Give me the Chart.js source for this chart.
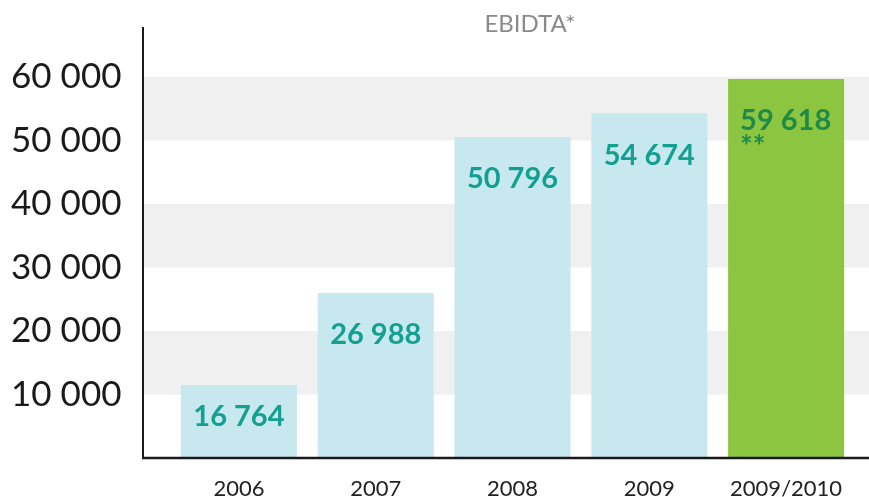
<!DOCTYPE html>
<html>
<head>
<meta charset="utf-8">
<script src="https://cdn.jsdelivr.net/npm/chart.js@4.4.0/dist/chart.umd.min.js"></script>
<style>
  html, body { margin: 0; padding: 0; background: #fff; }
  #wrap { width: 869px; height: 497px; position: relative; }
</style>
</head>
<body>
<div id="wrap"><canvas id="ebidtaChart"></canvas></div>
<script>
// Data
const categories = ['2006', '2007', '2008', '2009', '2009/2010'];
const barHeights = [11500, 26000, 50550, 54300, 59700];   // heights as drawn against the axis
const valueLabels = ['16 764', '26 988', '50 796', '54 674', '59 618'];
const yTicks = [10000, 20000, 30000, 40000, 50000, 60000];
const bandRanges = [[10000, 20000], [30000, 40000], [50000, 60000]];
const chartTitle = 'EBIDTA*';
const footnoteMark = '**';

const FONT = 'Lato, "Open Sans", sans-serif';
const barColors = ['#c8e8ef', '#c8e8ef', '#c8e8ef', '#c8e8ef', '#8cc640'];
const labelColors = ['#13a091', '#13a091', '#13a091', '#13a091', '#1f8a48'];

function fmt(v) {
  return String(v).replace(/\B(?=(\d{3})+(?!\d))/g, ' ');
}

const decorations = {
  id: 'decorations',
  beforeDatasetsDraw(chart) {
    const ctx = chart.ctx;
    const y = chart.scales.y;
    ctx.save();
    ctx.fillStyle = '#f0f0f0';
    bandRanges.forEach(([lo, hi]) => {
      const top = y.getPixelForValue(hi);
      const bot = y.getPixelForValue(lo);
      ctx.fillRect(143, top, chart.width - 143, bot - top);
    });
    ctx.restore();
  },
  afterDatasetsDraw(chart) {
    const ctx = chart.ctx;
    const area = chart.chartArea;
    const meta = chart.getDatasetMeta(0);
    ctx.save();

    // axis lines
    ctx.strokeStyle = '#1a1a1a';
    ctx.lineWidth = 2;
    ctx.beginPath();
    ctx.moveTo(143, area.top);
    ctx.lineTo(143, area.bottom);
    ctx.stroke();
    ctx.lineWidth = 2.5;
    ctx.beginPath();
    ctx.moveTo(142, area.bottom);
    ctx.lineTo(chart.width, area.bottom);
    ctx.stroke();

    // value labels inside bars
    ctx.textBaseline = 'middle';
    meta.data.forEach((bar, i) => {
      const cy = Math.min(bar.y + 42, bar.base - 41);
      ctx.fillStyle = labelColors[i];
      ctx.font = 'bold 29px ' + FONT;
      if (i === meta.data.length - 1) {
        const left = bar.x - bar.width / 2 + 12;
        ctx.textAlign = 'left';
        ctx.fillText(valueLabels[i], left, cy);
        ctx.font = 'bold 30px ' + FONT;
        ctx.fillText(footnoteMark, left, cy + 26);
      } else {
        ctx.textAlign = 'center';
        ctx.fillText(valueLabels[i], bar.x, cy);
      }
    });

    // title
    ctx.fillStyle = '#8a8a8a';
    ctx.font = '24px ' + FONT;
    ctx.textAlign = 'center';
    ctx.fillText(chartTitle, 530, 24);
    ctx.restore();
  }
};

const ctx = document.getElementById('ebidtaChart').getContext('2d');
new Chart(ctx, {
  type: 'bar',
  data: {
    labels: categories,
    datasets: [{
      data: barHeights,
      backgroundColor: barColors,
      borderWidth: 0,
      categoryPercentage: 1,
      barPercentage: 0.848
    }]
  },
  options: {
    responsive: true,
    maintainAspectRatio: false,
    animation: false,
    layout: { padding: { top: 27, right: 14.5, left: 0, bottom: 0 } },
    plugins: {
      legend: { display: false },
      tooltip: { enabled: false }
    },
    scales: {
      x: {
        grid: { display: false, drawTicks: false },
        border: { display: false },
        ticks: {
          color: '#222',
          font: { family: FONT, size: 22 },
          padding: 18,
          maxRotation: 0
        },
        afterFit(scale) {
          scale.height = 39;
          scale.paddingLeft = 0;
          scale.paddingRight = 0;
        }
      },
      y: {
        min: 0,
        max: 67874,
        grid: { display: false, drawTicks: false },
        border: { display: false },
        afterBuildTicks(scale) {
          scale.ticks = yTicks.map(v => ({ value: v }));
        },
        ticks: {
          color: '#1a1a1a',
          font: { family: FONT, size: 35 },
          padding: 49,
          callback: v => fmt(v)
        },
        afterFit(scale) {
          scale.width = 170.5;
          scale.paddingTop = 0;
          scale.paddingBottom = 0;
        }
      }
    }
  },
  plugins: [decorations]
});
</script>
</body>
</html>
